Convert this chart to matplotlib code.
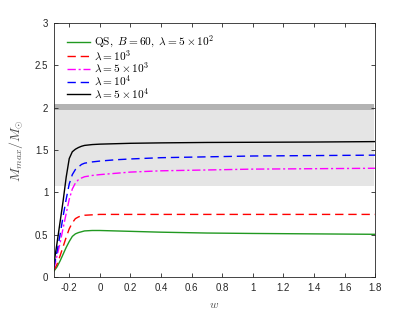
import matplotlib
matplotlib.use("Agg")
import matplotlib.pyplot as plt

plt.rcParams['mathtext.fontset'] = 'cm'
plt.rcParams['font.family'] = ['Liberation Sans', 'DejaVu Sans']

w = [-0.30, -0.28, -0.26, -0.24, -0.22, -0.20, -0.18, -0.16, -0.14, -0.12,
     -0.10, -0.05, 0.0, 0.1, 0.2, 0.4, 0.7, 1.0, 1.4, 1.8]

m_qs = [0.07, 0.12, 0.19, 0.27, 0.35, 0.42, 0.48, 0.51, 0.525, 0.535,
        0.545, 0.55, 0.55, 0.545, 0.54, 0.53, 0.52, 0.515, 0.51, 0.505]
m_l1e3 = [0.08, 0.15, 0.25, 0.36, 0.47, 0.57, 0.64, 0.69, 0.71, 0.725,
          0.73, 0.735, 0.74, 0.74, 0.74, 0.74, 0.74, 0.74, 0.74, 0.74]
m_l5e3 = [0.10, 0.25, 0.40, 0.58, 0.75, 0.92, 1.04, 1.11, 1.15, 1.17,
          1.185, 1.20, 1.21, 1.225, 1.24, 1.255, 1.265, 1.275, 1.28, 1.285]
m_l1e4 = [0.12, 0.30, 0.50, 0.72, 0.92, 1.10, 1.21, 1.27, 1.30, 1.33,
          1.345, 1.36, 1.37, 1.385, 1.395, 1.41, 1.42, 1.43, 1.435, 1.44]
m_l5e4 = [0.16, 0.40, 0.65, 0.90, 1.18, 1.40, 1.48, 1.51, 1.53, 1.545,
          1.555, 1.565, 1.57, 1.575, 1.58, 1.585, 1.59, 1.592, 1.595, 1.60]

band_light = [1.08, 1.97]
band_dark = [1.97, 2.05]

labels = [r'$\mathrm{QS},\ B=60,\ \lambda=5\times10^2$',
          r'$\lambda=10^3$',
          r'$\lambda=5\times10^3$',
          r'$\lambda=10^4$',
          r'$\lambda=5\times10^4$']

xticks = [-0.2, 0, 0.2, 0.4, 0.6, 0.8, 1, 1.2, 1.4, 1.6, 1.8]
xticklabels = ['-0.2', '0', '0.2', '0.4', '0.6', '0.8', '1', '1.2', '1.4', '1.6', '1.8']
yticks = [0, 0.5, 1, 1.5, 2, 2.5, 3]
yticklabels = ['0', '0.5', '1', '1.5', '2', '2.5', '3']

fig = plt.figure(figsize=(4.15, 3.12), dpi=100)
ax = fig.add_axes([0.130, 0.112, 0.774, 0.814])

ax.axhspan(band_light[0], band_light[1], xmin=0, xmax=0.997, color=(0.898, 0.898, 0.898), lw=0, zorder=0)
ax.axhspan(band_dark[0], band_dark[1], xmin=0, xmax=0.997, color=(0.70, 0.70, 0.70), lw=0, zorder=0)

lw = 1.0
ax.plot(w, m_qs, color=(0.13, 0.6, 0.13), lw=lw, label=labels[0])
ax.plot(w, m_l1e3, color='red', lw=lw, ls=(0, (6, 3.5)), label=labels[1])
ax.plot(w, m_l5e3, color='magenta', lw=lw, ls=(0, (6, 2, 1.5, 2)), label=labels[2])
ax.plot(w, m_l1e4, color='blue', lw=lw, ls=(0, (6, 3.5)), label=labels[3])
ax.plot(w, m_l5e4, color='black', lw=lw, label=labels[4])

ax.set_xlim(-0.3, 1.8)
ax.set_ylim(0, 3)
ax.set_xticks(xticks)
ax.set_xticklabels(xticklabels)
ax.set_yticks(yticks)
ax.set_yticklabels(yticklabels)
ax.tick_params(direction='in', top=True, right=True, length=3, width=0.6,
               labelsize=7, colors=(0.15, 0.15, 0.15), pad=4)
for s in ax.spines.values():
    s.set_linewidth(0.6)
    s.set_color((0.15, 0.15, 0.15))

ax.set_xlabel(r'$w$', fontsize=8.5, color=(0.3, 0.3, 0.3))
ax.xaxis.set_label_coords(0.5, -0.085)
ax.set_ylabel(r'$M_{max}/M_{\odot}$', fontsize=10, color=(0.3, 0.3, 0.3))
ax.yaxis.set_label_coords(-0.09, 0.5)

ax.legend(loc='upper left', frameon=False, fontsize=8.2, handlelength=2.1,
          handletextpad=0.3, labelspacing=-0.12, borderaxespad=0.0,
          bbox_to_anchor=(0.025, 0.975))

fig.savefig('out.png', dpi=100)
